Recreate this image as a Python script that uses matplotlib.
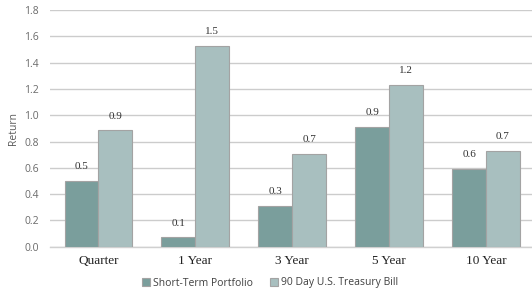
import matplotlib
matplotlib.use("Agg")
import matplotlib.pyplot as plt
import numpy as np

# ── 数据 ──────────────────────────────────────────────
categories = ["Quarter", "1 Year", "3 Year", "5 Year", "10 Year"]
portfolio = [0.50, 0.07, 0.31, 0.91, 0.59]
tbill = [0.885, 1.53, 0.705, 1.23, 0.73]
portfolio_labels = ["0.5", "0.1", "0.3", "0.9", "0.6"]
tbill_labels = ["0.9", "1.5", "0.7", "1.2", "0.7"]
series_names = ["Short-Term Portfolio", "90 Day U.S. Treasury Bill"]

DARK = "#7a9e9c"
LIGHT = "#a8bfbf"
EDGE = "#a3a3a3"
GRID = "#cccccc"
TXT = "#595959"

plt.rcParams.update({
    "font.family": ["Open Sans", "DejaVu Sans"],
})

fig = plt.figure(figsize=(5.32, 2.89), dpi=100)
ax = fig.add_axes([50 / 532, 42.3 / 289, 484.5 / 532, 236.7 / 289])

x = np.arange(len(categories))
w = 0.35
b1 = ax.bar(x - w / 2, portfolio, w, color=DARK, edgecolor=EDGE, linewidth=0.8,
            label=series_names[0], zorder=3)
b2 = ax.bar(x + w / 2, tbill, w, color=LIGHT, edgecolor=EDGE, linewidth=0.8,
            label=series_names[1], zorder=3)

serif = ["Liberation Serif", "DejaVu Serif"]
for bars, labels in ((b1, portfolio_labels), (b2, tbill_labels)):
    for rect, lab in zip(bars, labels):
        ax.annotate(lab, (rect.get_x() + rect.get_width() / 2, rect.get_height()),
                    xytext=(0, 7), textcoords="offset points", ha="center", va="bottom",
                    fontsize=8, color="#333333", family=serif)

ax.set_xlim(-0.5, len(categories) - 0.5)
ax.set_ylim(0, 1.8)
ax.set_yticks(np.arange(0, 1.81, 0.2))
ax.set_yticklabels([f"{v:.1f}" for v in np.arange(0, 1.81, 0.2)])
ax.yaxis.grid(True, color=GRID, linewidth=1, zorder=0)
ax.set_axisbelow(True)
for s in ["top", "right", "left"]:
    ax.spines[s].set_visible(False)
ax.spines["bottom"].set_color("#d0d0d0")
ax.spines["bottom"].set_linewidth(1)
ax.tick_params(axis="y", length=0, labelsize=7.5, labelcolor="#6a6a6a", pad=8)
ax.tick_params(axis="x", length=0, pad=6)
ax.set_xticks(x)
ax.set_xticklabels(categories, fontsize=9.5, color="#222222", family=serif)
ax.set_ylabel("Return", fontsize=7.5, color=TXT, labelpad=4)

ax.legend(loc="center", bbox_to_anchor=(270 / 532, 6 / 289), bbox_transform=fig.transFigure,
          ncol=2, frameon=False, fontsize=7.5, handlelength=0.8, handleheight=0.8,
          handletextpad=0.3, columnspacing=1.6, labelcolor="#404040")

fig.savefig("out.png", dpi=100)
